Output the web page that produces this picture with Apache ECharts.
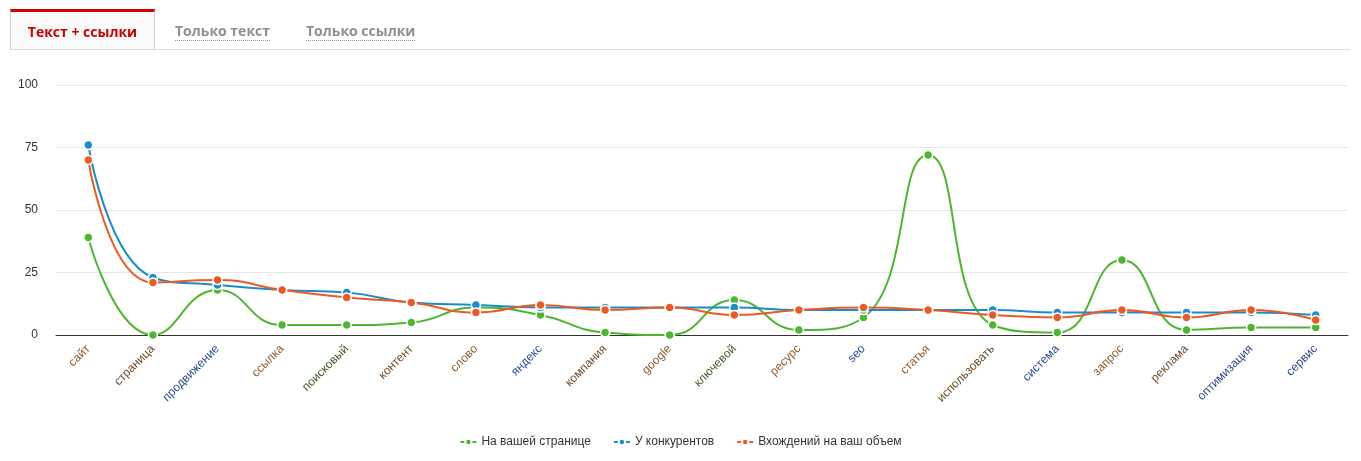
<!DOCTYPE html>
<html><head><meta charset="utf-8">
<script src="https://cdn.jsdelivr.net/npm/echarts@6/dist/echarts.min.js"></script>
<style>
body{margin:0;background:#fff;font-family:"Open Sans",Arial,sans-serif}
#tabs{position:absolute;left:10px;top:9px;width:1340px;height:40px;border-bottom:1px solid #ddd}
.tab{position:absolute;top:0;height:40px;line-height:44px;font-size:14px;font-weight:bold}
#t1{left:0;width:143px;border-top:3px solid #d20000;height:37px;border-left:1px solid #ccc;border-right:1px solid #ccc;background:#fafafa;color:#c00;text-align:center;line-height:40px;z-index:2}
#t2{left:165px;color:#8a8f99}
#t3{left:296px;color:#8a8f99}
.tab span{border-bottom:1px dotted #8a8f99}
#c{position:absolute;left:0;top:0;width:1361px;height:461px}
</style></head><body>
<div id="c"></div>
<div id="tabs"><div class="tab" id="t1">Текст + ссылки</div><div class="tab" id="t2"><span>Только текст</span></div><div class="tab" id="t3"><span>Только ссылки</span></div></div>
<script>
const categories=["сайт","страница","продвижение","ссылка","поисковый","контент","слово","яндекс","компания","google","ключевой","ресурс","seo","статья","использовать","система","запрос","реклама","оптимизация","сервис"];
const labelColors=["#8a5a2b","#6b4a2b","#2a4a8a","#8a5a2b","#3d5a2b","#6b4a2b","#8a5a2b","#2a4a8a","#6b4a2b","#8a5a2b","#3d5a2b","#8a5a2b","#2a4a8a","#8a5a2b","#6b4a2b","#2a4a8a","#8a5a2b","#6b4a2b","#2a4a8a","#2a4a8a"];
const onPage=[39,0,18,4,4,5,11,8,1,0,14,2,7,72,4,1,30,2,3,3];
const competitors=[76,23,20,18,17,13,12,11,11,11,11,10,10,10,10,9,9,9,9,8];
const occurrences=[70,21,22,18,15,13,9,12,10,11,8,10,11,10,8,7,10,7,10,6];
const names=["На вашей странице","У конкурентов","Вхождений на ваш объем"];
const colors=["#4cb630","#1a8ccc","#ec5a23"];
const ch=echarts.init(document.getElementById('c'));
const mk=(n,d,c)=>({name:n,type:'line',data:d,smooth:true,symbol:'circle',symbolSize:9,
 itemStyle:{color:c,borderColor:'#fff',borderWidth:1.5},lineStyle:{color:c,width:2}});
ch.setOption({
 animation:false,
 grid:{left:56,right:13,top:85,bottom:126},
 legend:{bottom:8,itemWidth:16,itemHeight:8,itemGap:22,textStyle:{fontSize:12,color:'#333',fontFamily:'Arial'},data:names},
 xAxis:{type:'category',data:categories,boundaryGap:true,
  axisLine:{lineStyle:{color:'#333'}},axisTick:{show:false},
  axisLabel:{rotate:45,interval:0,fontSize:12,fontFamily:'Arial',margin:12,
   color:(v,i)=>labelColors[i]}},
 yAxis:{type:'value',min:0,max:100,interval:25,
  axisLabel:{color:'#333',fontSize:12,fontFamily:'Arial',margin:18},
  splitLine:{lineStyle:{color:'#e6e6e6'}}},
 series:[mk(names[0],onPage,colors[0]),mk(names[1],competitors,colors[1]),mk(names[2],occurrences,colors[2])]
});
</script></body></html>
